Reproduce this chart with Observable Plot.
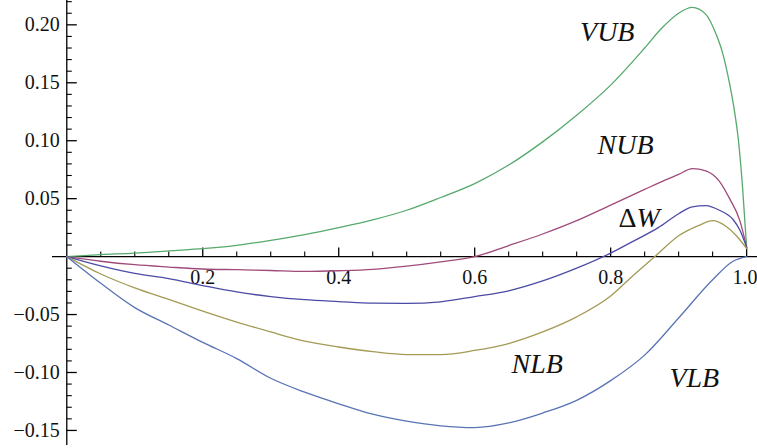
<!DOCTYPE html>
<html><head><meta charset="utf-8">
<script src="https://cdn.jsdelivr.net/npm/d3@7"></script>
<script src="https://cdn.jsdelivr.net/npm/@observablehq/plot@0.6"></script>
<style>body{margin:0;background:#fff} #chart svg{display:block}</style>
</head><body><div id="chart"></div>
<script>
// ---- data ----
const xVUB = [0, .05, .1, .15, .2, .25, .3, .35, .4, .45, .5, .55, .6, .65, .7, .75, .8, .85, .875, .9, .92, .94, .955, .965, .975, .982, .988, .994, 1.0];
const yVUB = [0, .0017, .003, .005, .0068, .0097, .0140, .019, .025, .0317, .040, .051, .063, .079, .099, .122, .148, .180, .197, .210, .215, .209, .192, .175, .149, .126, .10, .06, .008];

const xNUB = [0, .05, .1, .15, .2, .25, .3, .35, .4, .45, .5, .55, .6, .65, .7, .75, .8, .85, .88, .9, .92, .94, .96, .975, .99, 1.0];
const yNUB = [0, -.004, -.007, -.009, -.0107, -.0113, -.012, -.0128, -.0122, -.011, -.0082, -.0045, 0, .0095, .0195, .031, .0445, .058, .066, .071, .076, .074, .065, .05, .031, .008];

const xDW = [0, .05, .1, .15, .2, .25, .3, .35, .4, .45, .5, .55, .6, .65, .7, .75, .8, .835, .87, .9, .92, .94, .96, .98, .99, 1.0];
const yDW = [0, -.008, -.0145, -.019, -.025, -.0305, -.0345, -.0372, -.0388, -.0402, -.0403, -.039, -.0345, -.0295, -.021, -.010, .003, .0138, .025, .037, .043, .044, .040, .032, .023, .008];

const xNLB = [0, .05, .1, .15, .2, .25, .3, .35, .4, .45, .5, .55, .6, .65, .7, .75, .8, .83, .865, .9, .93, .95, .97, .985, 1.0];
const yNLB = [0, -.015, -.027, -.037, -.047, -.0565, -.065, -.073, -.078, -.082, -.0845, -.0845, -.081, -.075, -.065, -.052, -.034, -.018, 0, .018, .027, .031, .026, .018, .007];

const xVLB = [0, .05, .1, .15, .2, .25, .3, .35, .4, .45, .5, .55, .6, .65, .7, .75, .8, .85, .9, .95, .98, 1.0];
const yVLB = [0, -.023, -.044, -.059, -.074, -.088, -.105, -.117, -.127, -.136, -.142, -.146, -.1475, -.1435, -.135, -.124, -.107, -.085, -.053, -.020, -.004, 0];

const seriesNames = ["VUB", "NUB", "ΔW", "NLB", "VLB"];
const seriesColors = ["#55a96c", "#a04a7a", "#4b4ba6", "#a39a55", "#5874b4"];
// label text pieces: upright prefix + italic part
const labelUpright = ["", "", "Δ", "", ""];
const labelItalic = ["VUB", "NUB", "W", "NLB", "VLB"];
const labelX = [0.795, 0.822, 0.838, 0.692, 0.923];
const labelY = [0.1934, 0.0959, 0.0329, -0.093, -0.105];

const xMajorTicks = [0.2, 0.4, 0.6, 0.8, 1.0];
const xTickLabels = ["0.2", "0.4", "0.6", "0.8", "1.0"];
const yMajorTicks = [-0.15, -0.10, -0.05, 0.05, 0.10, 0.15, 0.20];
const yTickLabels = ["\u22120.15", "\u22120.10", "\u22120.05", "0.05", "0.10", "0.15", "0.20"];

// ---- build tables ----
const xs = [xVUB, xNUB, xDW, xNLB, xVLB];
const ys = [yVUB, yNUB, yDW, yNLB, yVLB];
const lines = seriesNames.flatMap((s, k) => xs[k].map((x, i) => ({series: s, x, y: ys[k][i]})));
const labels = seriesNames.map((s, k) => ({up: labelUpright[k], it: labelItalic[k], x: labelX[k], y: labelY[k], split: labelUpright[k] !== ""}));
const xLab = xMajorTicks.map((x, i) => ({x, text: xTickLabels[i], last: i === xMajorTicks.length - 1}));
const xMinor = d3.range(1, 20).map(i => i / 20).filter(v => Math.abs(v * 5 - Math.round(v * 5)) > 1e-9);
const yMinor = d3.range(-15, 23).map(i => i / 100).filter(v => Math.abs(v * 20 - Math.round(v * 20)) > 1e-9);

const tick = (dx, dy) => ({draw(ctx) { ctx.moveTo(0, 0); ctx.lineTo(dx, dy); }});
const serif = "'Liberation Serif', 'Times New Roman', serif";

const chart = Plot.plot({
  width: 757, height: 448,
  marginLeft: 52, marginRight: 0, marginTop: 0, marginBottom: 3,
  x: {domain: [-0.021, 1.016], axis: null},
  y: {domain: [-0.163, 0.221], axis: null},
  color: {domain: seriesNames, range: seriesColors},
  style: {background: "#fff", fontFamily: serif},
  marks: [
    Plot.ruleY([0], {stroke: "#000", strokeWidth: 1.3}),
    Plot.ruleX([0], {stroke: "#000", strokeWidth: 1.3}),
    Plot.dot(xMajorTicks, {x: d => d, y: 0, symbol: tick(0, -9), fill: "none", stroke: "#000", strokeWidth: 1.3}),
    Plot.dot(xMinor, {x: d => d, y: 0, symbol: tick(0, -5), fill: "none", stroke: "#000", strokeWidth: 1.1}),
    Plot.dot(yMajorTicks, {x: 0, y: d => d, symbol: tick(10, 0), fill: "none", stroke: "#000", strokeWidth: 1.3}),
    Plot.dot(yMinor, {x: 0, y: d => d, symbol: tick(5, 0), fill: "none", stroke: "#000", strokeWidth: 1.1}),
    Plot.text(xLab.filter(d => !d.last), {x: "x", y: 0, text: "text", dy: 21, fontSize: 20, fontFamily: serif, fill: "#111"}),
    Plot.text(xLab.filter(d => d.last), {x: "x", y: 0, text: "text", textAnchor: "end", dx: 11, dy: 21, fontSize: 20, fontFamily: serif, fill: "#111"}),
    Plot.text(yMajorTicks, {x: 0, y: d => d, text: (d, i) => yTickLabels[i], textAnchor: "end", dx: -7, fontSize: 20, fontFamily: serif, fill: "#111"}),
    Plot.line(lines, {x: "x", y: "y", z: "series", stroke: "series", strokeWidth: 1.3, curve: "monotone-x"}),
    Plot.text(labels.filter(d => !d.split), {x: "x", y: "y", text: "it", fontSize: 28, fontStyle: "italic", fontFamily: serif, fill: "#111"}),
    Plot.text(labels.filter(d => d.split), {x: "x", y: "y", text: "up", textAnchor: "end", fontSize: 28, fontFamily: serif, fill: "#111"}),
    Plot.text(labels.filter(d => d.split), {x: "x", y: "y", text: "it", textAnchor: "start", fontSize: 28, fontStyle: "italic", fontFamily: serif, fill: "#111"})
  ]
});
document.getElementById("chart").appendChild(chart);
</script>
</body></html>
